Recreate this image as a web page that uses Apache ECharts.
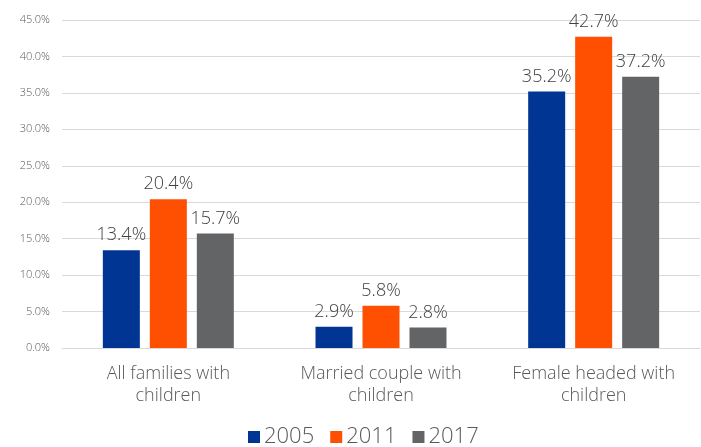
<!DOCTYPE html>
<html><head><meta charset="utf-8">
<script src="https://cdn.jsdelivr.net/npm/echarts@6/dist/echarts.min.js"></script>
<style>html,body{margin:0;padding:0;background:#fff}#c{width:701px;height:447px}</style>
</head><body><div id="c"></div>
<script>
const categories = ['All families with\nchildren', 'Married couple with\nchildren', 'Female headed with\nchildren'];
const years = ['2005', '2011', '2017'];
const v2005 = [13.4, 2.9, 35.2];
const v2011 = [20.4, 5.8, 42.7];
const v2017 = [15.7, 2.8, 37.2];
const colors = ['#003594', '#FF4F00', '#636466'];
const font = 'Open Sans';
const chart = echarts.init(document.getElementById('c'));
const mk = (name, data, i) => ({
  name, type: 'bar', data, barWidth: 37, barGap: '27%',
  itemStyle: { color: colors[i] },
  label: { show: true, position: 'top', distance: 6, formatter: p => p.value.toFixed(1) + '%',
    fontFamily: font, fontSize: 18, fontWeight: 300, color: '#404040' }
});
chart.setOption({
  animation: false,
  textStyle: { fontFamily: font },
  grid: { left: 62, right: 1, top: 20, bottom: 99, containLabel: false },
  legend: {
    data: years, bottom: -6, left: 243, itemWidth: 12, itemHeight: 12, itemGap: 16,
    icon: 'rect', textStyle: { fontFamily: font, fontSize: 22, fontWeight: 300, color: '#595959', padding: [0, 0, 0, -1] }
  },
  xAxis: {
    type: 'category', data: categories,
    axisLine: { lineStyle: { color: '#D9D9D9', width: 1 } },
    axisTick: { show: false },
    axisLabel: { fontFamily: font, fontSize: 18, fontWeight: 300, color: '#595959', margin: 15, lineHeight: 22 }
  },
  yAxis: {
    type: 'value', min: 0, max: 45, interval: 5,
    axisLine: { show: false }, axisTick: { show: false },
    splitLine: { lineStyle: { color: '#D9D9D9' } },
    axisLabel: { fontFamily: font, fontSize: 11, fontWeight: 300, color: '#595959', margin: 12, formatter: v => v.toFixed(1) + '%' }
  },
  series: [mk(years[0], v2005, 0), mk(years[1], v2011, 1), mk(years[2], v2017, 2)]
});
</script></body></html>
